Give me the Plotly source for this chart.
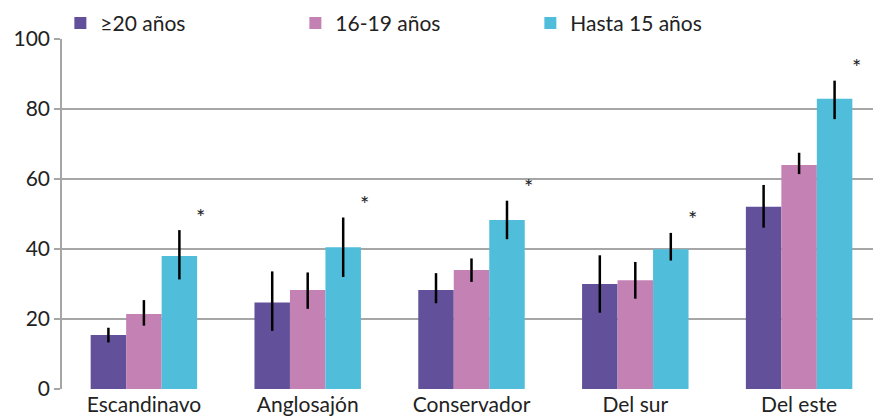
import plotly.graph_objects as go

categories = ["Escandinavo", "Anglosajón", "Conservador", "Del sur", "Del este"]
series_names = ["≥20 años", "16-19 años", "Hasta 15 años"]
v20 = [15.4, 24.7, 28.3, 30.0, 52.1]
v20_hi = [17.5, 33.6, 33.1, 38.2, 58.3]
v20_lo = [13.3, 16.6, 24.5, 21.8, 46.1]
v16 = [21.4, 28.3, 34.0, 31.1, 64.0]
v16_hi = [25.4, 33.3, 37.3, 36.3, 67.5]
v16_lo = [18.1, 22.9, 30.6, 25.8, 61.4]
v15 = [38.0, 40.5, 48.3, 39.9, 82.9]
v15_hi = [45.4, 49.0, 53.8, 44.6, 88.1]
v15_lo = [31.3, 32.0, 42.8, 36.7, 77.1]
significant = ["*", "*", "*", "*", "*"]
y_ticks = [0, 20, 40, 60, 80, 100]

colors = ["#62519a", "#c481b4", "#50bedb"]

fig = go.Figure()
for name, vals, hi, lo, col in zip(series_names, [v20, v16, v15], [v20_hi, v16_hi, v15_hi],
                                   [v20_lo, v16_lo, v15_lo], colors):
    fig.add_trace(go.Bar(
        x=categories, y=vals, name=name, marker=dict(color=col, line=dict(width=0)),
        error_y=dict(type="data", symmetric=False,
                     array=[h - v for h, v in zip(hi, vals)],
                     arrayminus=[v - l for l, v in zip(lo, vals)],
                     color="black", thickness=2.5, width=0),
    ))

for cat, hi, s in zip(categories, v15_hi, significant):
    fig.add_annotation(x=cat, y=hi, text=s, showarrow=False, xshift=57, yshift=14,
                       font=dict(size=22, color="#222222"))

# page body has an 8px default margin, so the figure is 8px smaller
fig.update_layout(
    width=873, height=410,
    margin=dict(l=54, r=0, t=31, b=29, autoexpand=False),
    paper_bgcolor="white", plot_bgcolor="white",
    font=dict(family="Lato, sans-serif", size=20, color="#222222"),
    barmode="group", bargap=0.35, bargroupgap=0,
    showlegend=True,
    legend=dict(orientation="h", x=-0.002, xanchor="left", y=1.045, yanchor="middle",
                entrywidth=190, entrywidthmode="pixels", font=dict(size=21),
                bgcolor="rgba(0,0,0,0)"),
    xaxis=dict(showgrid=False, showline=False, ticks="", tickfont=dict(size=21),
               ticklabelstandoff=1),
    yaxis=dict(range=[0, 100], tickvals=y_ticks, showgrid=True, gridcolor="#a6a6a6",
               gridwidth=1.5, showline=True, linecolor="#a6a6a6", linewidth=1.5,
               ticks="outside", ticklen=6, tickcolor="#a6a6a6", tickwidth=1.5,
               zeroline=False, tickfont=dict(size=21)),
)

fig.write_html("out.html")
